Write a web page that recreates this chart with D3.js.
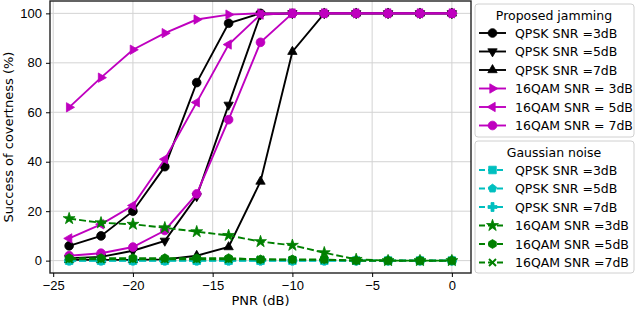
<!DOCTYPE html>
<meta charset="utf-8">
<head>
	<title>Success of covertness vs PNR</title>
</head>
<style>
body { margin: 0; background: #fff; }
svg { font-family: "DejaVu Sans", sans-serif; }
.grid line { stroke: #d3d3d3; stroke-width: 1; }
.axis path, .axis line { stroke: #000; }
.axis text { font-size: 13px; fill: #000; }
</style>
<body>
<svg width="640" height="311"></svg>
<script src="https://cdnjs.cloudflare.com/ajax/libs/d3/7.8.5/d3.min.js"></script>
<script>

// PNR values (dB)
var pnr = [-24, -22, -20, -18, -16, -14, -12, -10, -8, -6, -4, -2, 0];
var xTicks = [-25, -20, -15, -10, -5, 0];
var yTicks = [0, 20, 40, 60, 80, 100];

// proposed jamming
var qpsk3 = [6, 10, 20, 38, 72, 96, 100, 100, 100, 100, 100, 100, 100];
var qpsk5 = [1, 1.5, 4, 8, 26, 63, 99.5, 100, 100, 100, 100, 100, 100];
var qpsk7 = [0.3, 0.3, 0.3, 0.5, 2, 5.5, 32, 84.5, 100, 100, 100, 100, 100];
var qam3 = [62, 74, 85.3, 92, 97.5, 99.5, 100, 100, 100, 100, 100, 100, 100];
var qam5 = [9, 14.7, 22.3, 41, 64, 87.4, 99.5, 100, 100, 100, 100, 100, 100];
var qam7 = [2, 3, 5.5, 12.2, 27, 57, 88.3, 100, 100, 100, 100, 100, 100];

// gaussian noise
var gQpsk3 = [0, 0, 0, 0, 0, 0, 0, 0, 0, 0, 0, 0, 0];
var gQpsk5 = [0, 0, 0, 0, 0, 0, 0, 0, 0, 0, 0, 0, 0];
var gQpsk7 = [0, 0, 0, 0, 0, 0, 0, 0, 0, 0, 0, 0, 0];
var gQam3 = [17, 15.3, 14.7, 13.3, 11.7, 10.2, 7.7, 6.2, 3.2, 0.5, 0, 0, 0];
var gQam5 = [1, 1, 1, 1, 1, 1, 0.5, 0.5, 0.5, 0, 0, 0, 0];
var gQam7 = [0.5, 0.5, 0.5, 0.5, 0.5, 0.5, 0.5, 0.3, 0.3, 0, 0, 0, 0];

var proposed = [
	{label: "QPSK SNR =3dB", values: qpsk3, color: "#000000", marker: "circle"},
	{label: "QPSK SNR =5dB", values: qpsk5, color: "#000000", marker: "tri_down"},
	{label: "QPSK SNR =7dB", values: qpsk7, color: "#000000", marker: "tri_up"},
	{label: "16QAM SNR = 3dB", values: qam3, color: "#bf00bf", marker: "tri_right"},
	{label: "16QAM SNR = 5dB", values: qam5, color: "#bf00bf", marker: "tri_left"},
	{label: "16QAM SNR = 7dB", values: qam7, color: "#bf00bf", marker: "circle"}
];
var gaussian = [
	{label: "QPSK SNR =3dB", values: gQpsk3, color: "#00bfbf", marker: "square"},
	{label: "QPSK SNR =5dB", values: gQpsk5, color: "#00bfbf", marker: "pentagon"},
	{label: "QPSK SNR =7dB", values: gQpsk7, color: "#00bfbf", marker: "plus"},
	{label: "16QAM SNR =3dB", values: gQam3, color: "#008000", marker: "star"},
	{label: "16QAM SNR =5dB", values: gQam5, color: "#008000", marker: "hexagon"},
	{label: "16QAM SNR =7dB", values: gQam7, color: "#008000", marker: "x"}
];

var svg = d3.select("svg");
var pLeft = 50, pRight = 471, pTop = 1, pBottom = 273;

var x = d3.scaleLinear().domain([-25.2, 1.2]).range([pLeft, pRight]);
var y = d3.scaleLinear().domain([-5, 105]).range([pBottom, pTop]);

// grid
var grid = svg.append("g").attr("class", "grid");
grid.selectAll(".gx").data(xTicks).enter().append("line")
	.attr("x1", function(d){ return x(d); }).attr("x2", function(d){ return x(d); })
	.attr("y1", pTop).attr("y2", pBottom);
grid.selectAll(".gy").data(yTicks).enter().append("line")
	.attr("x1", pLeft).attr("x2", pRight)
	.attr("y1", function(d){ return y(d); }).attr("y2", function(d){ return y(d); });

function polygon(n, r, rot) {
	var pts = [];
	for (var i = 0; i < n; i++) {
		var a = rot + i * 2 * Math.PI / n;
		pts.push([r * Math.sin(a), -r * Math.cos(a)]);
	}
	return "M" + pts.join("L") + "Z";
}

function markerPath(m) {
	switch (m) {
		case "circle": return d3.symbol(d3.symbolCircle, 60)();
		case "tri_up": return polygon(3, 5.4, 0);
		case "tri_down": return polygon(3, 5.4, Math.PI);
		case "tri_right": return polygon(3, 5.4, Math.PI / 2);
		case "tri_left": return polygon(3, 5.4, -Math.PI / 2);
		case "square": return "M-3.8,-3.8H3.8V3.8H-3.8Z";
		case "pentagon": return polygon(5, 4.4, 0);
		case "hexagon": return polygon(6, 4.4, 0);
		case "plus": return "M-1.5,-4.5H1.5V-1.5H4.5V1.5H1.5V4.5H-1.5V1.5H-4.5V-1.5H-1.5Z";
		case "star": return d3.symbol(d3.symbolStar, 44)();
		case "x": return "M-3.5,-3.5L3.5,3.5M-3.5,3.5L3.5,-3.5";
	}
}

var line = d3.line()
	.x(function(d, i){ return x(pnr[i]); })
	.y(function(d){ return y(d); });

function drawSeries(s, dashed) {
	var g = svg.append("g");
	g.append("path")
		.attr("d", line(s.values))
		.attr("fill", "none")
		.attr("stroke", s.color)
		.attr("stroke-width", 1.9)
		.attr("stroke-dasharray", dashed ? "7,3" : null);
	g.selectAll("path.mk").data(s.values).enter().append("path")
		.attr("class", "mk")
		.attr("transform", function(d, i){ return "translate(" + x(pnr[i]) + "," + y(d) + ")"; })
		.attr("d", markerPath(s.marker))
		.attr("fill", s.marker == "x" ? "none" : s.color)
		.attr("stroke", s.color)
		.attr("stroke-width", s.marker == "x" ? 1.9 : 0.8);
}

proposed.forEach(function(s){ drawSeries(s, false); });
gaussian.forEach(function(s){ drawSeries(s, true); });

// frame
svg.append("rect")
	.attr("x", pLeft).attr("y", pTop)
	.attr("width", pRight - pLeft).attr("height", pBottom - pTop)
	.attr("fill", "none").attr("stroke", "#222").attr("stroke-width", 1.4);

// axes
var xAxis = svg.append("g").attr("class", "axis")
	.attr("transform", "translate(0," + pBottom + ")")
	.call(d3.axisBottom(x).tickValues(xTicks).tickSize(4).tickPadding(4)
		.tickFormat(function(d){ return d < 0 ? "\u2212" + (-d) : d; }));
xAxis.select(".domain").remove();

var yAxis = svg.append("g").attr("class", "axis")
	.attr("transform", "translate(" + pLeft + ",0)")
	.call(d3.axisLeft(y).tickValues(yTicks).tickSize(4).tickPadding(4));
yAxis.select(".domain").remove();

svg.append("text")
	.attr("x", (pLeft + pRight) / 2).attr("y", 305)
	.attr("text-anchor", "middle").attr("font-size", 13)
	.text("PNR (dB)");

svg.append("text")
	.attr("transform", "translate(13," + ((pTop + pBottom) / 2) + ") rotate(-90)")
	.attr("text-anchor", "middle").attr("font-size", 13)
	.text("Success of covertness (%)");

// legends
function drawLegend(series, title, y0, h, dashed) {
	var g = svg.append("g");
	g.append("rect")
		.attr("x", 475).attr("y", y0)
		.attr("width", 159).attr("height", h)
		.attr("rx", 3)
		.attr("fill", "#fff").attr("stroke", "#d0d0d0");
	g.append("text")
		.attr("x", 554).attr("y", y0 + 16)
		.attr("text-anchor", "middle").attr("font-size", 12.5)
		.text(title);
	series.forEach(function(s, i){
		var yy = y0 + 29 + i * 18.5;
		g.append("line")
			.attr("x1", 479).attr("x2", 506)
			.attr("y1", yy).attr("y2", yy)
			.attr("stroke", s.color).attr("stroke-width", 1.9)
			.attr("stroke-dasharray", dashed ? "6,3" : null);
		g.append("path")
			.attr("transform", "translate(492.5," + yy + ")")
			.attr("d", markerPath(s.marker))
			.attr("fill", s.marker == "x" ? "none" : s.color)
			.attr("stroke", s.color)
			.attr("stroke-width", s.marker == "x" ? 1.9 : 0.8);
		g.append("text")
			.attr("x", 515).attr("y", yy + 4.5)
			.attr("font-size", 12.5)
			.text(s.label);
	});
}

drawLegend(proposed, "Proposed jamming", 4, 133, false);
drawLegend(gaussian, "Gaussian noise", 141, 132, true);

</script>
</body>
</html>
